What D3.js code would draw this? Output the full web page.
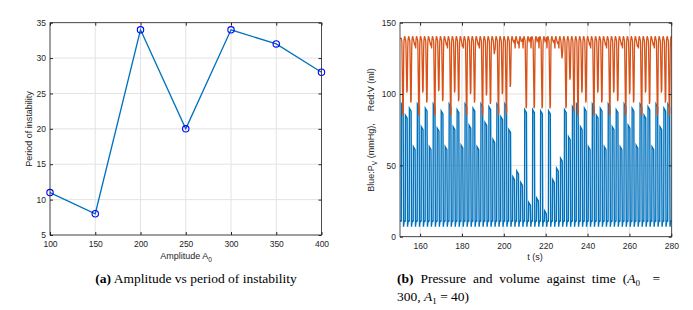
<!DOCTYPE html>
<html lang="en">
<head>
<meta charset="UTF-8">
<title>Amplitude and pressure/volume</title>
<script src="https://cdnjs.cloudflare.com/ajax/libs/d3/7.8.5/d3.min.js"></script>
<style>
  body { margin: 0; background: #fff; }
  svg { display: block; }
  .tick text { font-family: "Liberation Sans", Arial, sans-serif; font-size: 8.5px; fill: #262626; }
  .lbl { font-family: "Liberation Sans", Arial, sans-serif; font-size: 9px; fill: #262626; }
  .cap { font-family: "Liberation Serif", "Times New Roman", serif; font-size: 13.5px; fill: #000; }
</style>
</head>
<body>
<div id="chart"></div>
<script>
// ---- left panel data: amplitude vs period of instability
const amplitude = [100, 150, 200, 250, 300, 350, 400];
const period = [11, 8, 34, 20, 34, 32, 28];
const ampTicks = [100, 150, 200, 250, 300, 350, 400];
const periodTicks = [5, 10, 15, 20, 25, 30, 35];

// ---- right panel data: one entry per heart beat
const beatTime = [151.0, 152.9, 154.8, 156.7, 158.6, 160.5, 162.4, 164.3, 166.2, 168.1,
  170.0, 171.9, 173.8, 175.7, 177.6, 179.5, 181.4, 183.3, 185.2, 187.1,
  189.0, 190.9, 192.8, 194.7, 196.6, 198.5, 200.4, 202.3, 204.2, 206.1,
  208.0, 209.9, 211.8, 213.7, 215.6, 217.5, 219.4, 221.3, 223.2, 225.1,
  227.0, 228.9, 230.8, 232.7, 234.6, 236.5, 238.4, 240.3, 242.2, 244.1,
  246.0, 247.9, 249.8, 251.7, 253.6, 255.5, 257.4, 259.3, 261.2, 263.1,
  265.0, 266.9, 268.8, 270.7, 272.6, 274.5, 276.4, 278.3];
// peak ventricular pressure per beat (mmHg)
const peakP = [93, 85, 90, 63, 93, 77, 90, 63, 93, 76,
  88, 63, 93, 77, 89, 64, 93, 78, 90, 63,
  93, 80, 91, 68, 93, 84, 93, 75, 42, 46,
  38, 89, 24, 89, 27, 88, 18, 88, 40, 48,
  55, 89, 70, 91, 93, 77, 90, 63, 93, 85,
  90, 63, 93, 77, 89, 63, 93, 78, 90, 64,
  93, 85, 91, 63, 93, 77, 90, 93];
// minimum ventricular volume per beat (ml)
const minV = [85, 101, 94, 134, 85, 101, 94, 134, 85, 102,
  95, 134, 85, 101, 95, 133, 85, 100, 94, 134,
  85, 99, 93, 128, 85, 100, 86, 105, 136, 135,
  137, 90, 138, 90, 138, 90, 138, 90, 136, 135,
  125, 90, 110, 88, 85, 101, 94, 134, 85, 101,
  94, 134, 85, 101, 95, 134, 85, 100, 94, 133,
  85, 101, 93, 134, 85, 101, 94, 85];
const pBase = 11, pDip = 7, vTop = 140;
const tTicks = [160, 180, 200, 220, 240, 260, 280];
const pvTicks = [0, 50, 100, 150];

const blue = '#0072BD', orange = '#D95319', grid = '#e3e3e3', axisCol = '#262626';

const svg = d3.select('#chart').append('svg')
  .attr('width', 693).attr('height', 310);

// grid lines behind the data
function frame(x, y, xt, yt) {
  const [x0, x1] = x.range(), [y0, y1] = y.range();
  const g = svg.append('g');
  g.selectAll('.gx').data(xt).join('line')
    .attr('x1', d => x(d)).attr('x2', d => x(d)).attr('y1', y0).attr('y2', y1)
    .attr('stroke', grid).attr('stroke-width', 1);
  g.selectAll('.gy').data(yt).join('line')
    .attr('y1', d => y(d)).attr('y2', d => y(d)).attr('x1', x0).attr('x2', x1)
    .attr('stroke', grid).attr('stroke-width', 1);
  return g;
}
// box + inward ticks on all four sides, MATLAB style
function axes(x, y, xt, yt) {
  const [x0, x1] = x.range(), [y0, y1] = y.range();
  const fmt = d3.format('d');
  svg.append('g').attr('transform', `translate(0,${y0})`)
    .call(d3.axisBottom(x).tickValues(xt).tickSize(-3).tickPadding(6).tickFormat(fmt));
  svg.append('g').attr('transform', `translate(0,${y1})`)
    .call(d3.axisTop(x).tickValues(xt).tickSize(-3).tickFormat(''));
  svg.append('g').attr('transform', `translate(${x0},0)`)
    .call(d3.axisLeft(y).tickValues(yt).tickSize(-3).tickPadding(4).tickFormat(fmt));
  svg.append('g').attr('transform', `translate(${x1},0)`)
    .call(d3.axisRight(y).tickValues(yt).tickSize(-3).tickFormat(''));
  svg.selectAll('.domain').remove();
  svg.selectAll('.tick line').attr('stroke', axisCol);
  svg.append('rect').attr('x', x0).attr('y', y1).attr('width', x1 - x0).attr('height', y0 - y1)
    .attr('fill', 'none').attr('stroke', axisCol).attr('stroke-width', 0.8);
}

// ---------------- left panel
const xa = d3.scaleLinear().domain([100, 400]).range([50, 321.5]);
const ya = d3.scaleLinear().domain([5, 35]).range([235, 22.7]);
frame(xa, ya, ampTicks, periodTicks);
const ptsA = amplitude.map((a, i) => [a, period[i]]);
svg.append('path').datum(ptsA)
  .attr('d', d3.line().x(d => xa(d[0])).y(d => ya(d[1])))
  .attr('fill', 'none').attr('stroke', blue).attr('stroke-width', 1.3);
svg.selectAll('.mk').data(ptsA).join('circle')
  .attr('cx', d => xa(d[0])).attr('cy', d => ya(d[1])).attr('r', 3.2)
  .attr('fill', 'none').attr('stroke', '#0000ff').attr('stroke-width', 1.1);
axes(xa, ya, ampTicks, periodTicks);

const xl = svg.append('text').attr('class', 'lbl').attr('x', 186).attr('y', 259).attr('text-anchor', 'middle');
xl.append('tspan').text('Amplitude A');
xl.append('tspan').attr('dy', 2.5).attr('font-size', '6.5px').text('0');
svg.append('text').attr('class', 'lbl').attr('text-anchor', 'middle')
  .attr('transform', 'translate(32,129) rotate(-90)').text('Period of instability');

// ---------------- right panel
const xb = d3.scaleLinear().domain([150.4, 280.2]).range([400, 671.7]);
const yb = d3.scaleLinear().domain([0, 150]).range([236.7, 22.7]);
frame(xb, yb, tTicks, pvTicks);

svg.append('clipPath').attr('id', 'clipb').append('rect')
  .attr('x', xb.range()[0]).attr('y', yb.range()[1])
  .attr('width', xb.range()[1] - xb.range()[0]).attr('height', yb.range()[0] - yb.range()[1]);

// beat shape: offsets in seconds from the beat start
const pPts = [[150.4, pBase]];
const vPts = [[150.4, vTop - 1]];
beatTime.forEach((t, i) => {
  const p = peakP[i];
  pPts.push([t, pBase], [t + 0.1, p], [t + 0.9, p - 2], [t + 1.1, pDip], [t + 1.3, pBase - 1], [t + 1.7, pBase]);
  const v = minV[i];
  vPts.push([t, vTop - 1], [t + 0.3, vTop - 3], [t + 0.75, v], [t + 0.95, v + 2], [t + 1.2, vTop - 8],
    [t + 1.35, vTop - 2], [t + 1.6, vTop + 0.5], [t + 1.85, vTop - 0.5]);
});
pPts.push([280.2, pBase]);
vPts.push([280.2, vTop - 1]);

const lineB = d3.line().x(d => xb(d[0])).y(d => yb(d[1]));
svg.append('path').datum(pPts).attr('clip-path', 'url(#clipb)')
  .attr('d', lineB).attr('fill', 'none').attr('stroke', blue).attr('stroke-width', 1.4);
svg.append('path').datum(vPts).attr('clip-path', 'url(#clipb)')
  .attr('d', lineB).attr('fill', 'none').attr('stroke', orange).attr('stroke-width', 1.3);
axes(xb, yb, tTicks, pvTicks);

svg.append('text').attr('class', 'lbl').attr('x', 535).attr('y', 260).attr('text-anchor', 'middle').text('t (s)');
const yl = svg.append('text').attr('class', 'lbl').attr('text-anchor', 'middle')
  .attr('transform', 'translate(374,130) rotate(-90)');
yl.append('tspan').text('Blue:P');
yl.append('tspan').attr('dy', 2.5).attr('font-size', '6.5px').text('V');
yl.append('tspan').attr('dy', -2.5).text(' (mmHg),');
yl.append('tspan').attr('dx', 12).text('Red:V (ml)');

// ---------------- captions
const ca = svg.append('text').attr('class', 'cap').attr('x', 196).attr('y', 283).attr('text-anchor', 'middle');
ca.append('tspan').attr('font-weight', 'bold').text('(a)');
ca.append('tspan').text(' Amplitude vs period of instability');

const cb = svg.append('text').attr('class', 'cap').attr('x', 397).attr('y', 283).attr('word-spacing', '3.5px');
cb.append('tspan').attr('font-weight', 'bold').text('(b)');
cb.append('tspan').text(' Pressure and volume against time (');
cb.append('tspan').attr('font-style', 'italic').text('A');
cb.append('tspan').attr('dy', 2.5).attr('font-size', '9px').text('0');
svg.append('text').attr('class', 'cap').attr('x', 660).attr('y', 283).attr('text-anchor', 'end').text('=');
const cb2 = svg.append('text').attr('class', 'cap').attr('x', 397).attr('y', 301);
cb2.append('tspan').text('300, ');
cb2.append('tspan').attr('font-style', 'italic').text('A');
cb2.append('tspan').attr('dy', 2.5).attr('font-size', '9px').text('1');
cb2.append('tspan').attr('dy', -2.5).text(' = 40)');
</script>
</body>
</html>
